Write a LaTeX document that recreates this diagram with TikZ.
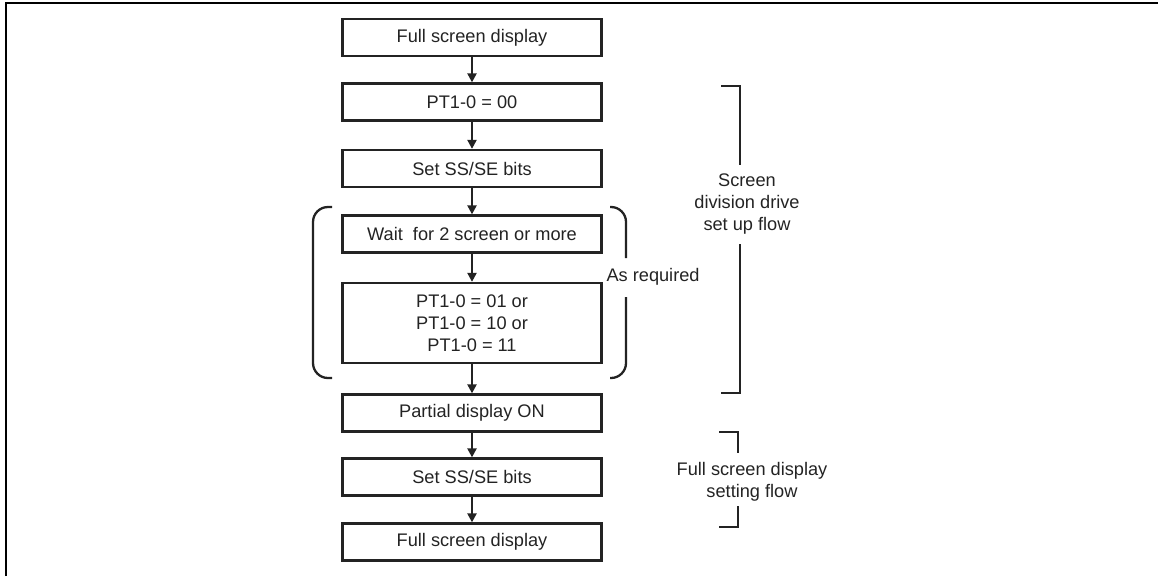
\documentclass[tikz,border=0pt]{standalone}
\usepackage{fontspec}
\setmainfont{Liberation Sans}
\usetikzlibrary{arrows.meta, positioning}
\definecolor{inkgray}{RGB}{35,35,35}

\begin{document}
\begin{tikzpicture}[x=1pt, y=-1pt,
  stepbox/.style={draw=inkgray, line width=2.3pt, minimum width=259pt, minimum height=37pt,
    inner sep=0pt, align=center, font=\fontsize{18.2}{22}\selectfont, text=inkgray},
  flowarrow/.style={draw=inkgray, line width=2.2pt, -{Triangle[length=9pt, width=9pt]}},
  bracket/.style={draw=inkgray, line width=2.3pt},
  note/.style={align=center, font=\fontsize{18.2}{22}\selectfont, text=inkgray}]
  \useasboundingbox (0,0) rectangle (1158,576);
  % frame
  \draw[line width=2.4pt] (6,576) -- (6,3) -- (1158,3);
  % flow steps
  \node[stepbox] (fullA)   at (472,37.5) {Full screen display};
  \node[stepbox] (ptzero)  at (472,102)  {PT1-0 = 00};
  \node[stepbox] (setssA)  at (472,168.5) {Set SS/SE bits};
  \node[stepbox] (waitscr) at (472,234)  {Wait\ \ for 2 screen or more};
  \node[stepbox, minimum height=80pt] (ptsel) at (472,323)
    {PT1-0 = 01 or\\PT1-0 = 10 or\\PT1-0 = 11};
  \node[stepbox] (partial) at (472,413)  {Partial display ON};
  \node[stepbox] (setssB)  at (472,477)  {Set SS/SE bits};
  \node[stepbox] (fullB)   at (472,542)  {Full screen display};
  \draw[flowarrow] (fullA) -- (ptzero);
  \draw[flowarrow] (ptzero) -- (setssA);
  \draw[flowarrow] (setssA) -- (waitscr);
  \draw[flowarrow] (waitscr) -- (ptsel);
  \draw[flowarrow] (ptsel) -- (partial);
  \draw[flowarrow] (partial) -- (setssB);
  \draw[flowarrow] (setssB) -- (fullB);
  % as required
  \draw[bracket, rounded corners=15pt] (332,207) -- (313,207) -- (313,378) -- (332,378);
  \node[note, anchor=west] (asreq) at (603,277) {As required};
  \draw[bracket, rounded corners=15pt] (610,207) -- (626,207) -- (626,258);
  \draw[bracket, rounded corners=15pt] (626,297) -- (626,378) -- (610,378);
  % set up flow
  \node[note] (divflow) at (747,204) {Screen\\division drive\\set up flow};
  \draw[bracket] (721,86) -- (740,86) -- (740,165);
  \draw[bracket] (740,244) -- (740,393) -- (721,393);
  % full screen setting flow
  \node[note] (setflow) at (752,482) {Full screen display\\setting flow};
  \draw[bracket] (719,432) -- (738,432) -- (738,453);
  \draw[bracket] (738,506) -- (738,527) -- (719,527);
\end{tikzpicture}
\end{document}
